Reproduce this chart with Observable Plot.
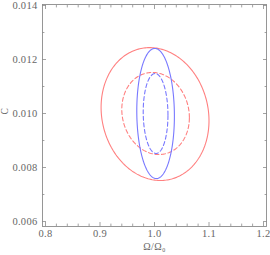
<!DOCTYPE html>
<html>
<head>
<meta charset="utf-8">
<script src="https://cdn.jsdelivr.net/npm/d3@7"></script>
<script src="https://cdn.jsdelivr.net/npm/@observablehq/plot@0.6"></script>
<style>
  html, body { margin: 0; padding: 0; background: #fff; }
</style>
</head>
<body>
<div id="chart"></div>
<script>
// Confidence ellipses: center, sigma along x, sigma along y, correlation
const ellipseNames  = ["red 2σ", "red 1σ", "blue 2σ", "blue 1σ"];
const ellipseColor  = ["red", "red", "blue", "blue"];
const ellipseDashed = [false, true, false, true];
const centerX = [1.001, 1.002, 1.002, 1.002];
const centerY = [0.00998, 0.0100, 0.0100, 0.0100];
const sigmaX  = [0.099, 0.062, 0.0345, 0.0227];
const sigmaY  = [0.00246, 0.00152, 0.00241, 0.00148];
const rho     = [-0.1, -0.1, -0.04, -0.04];

// Axis ticks
const xMajor = [0.8, 0.9, 1.0, 1.1, 1.2];
const xMajorLabels = ["0.8", "0.9", "1.0", "1.1", "1.2"];
const xMinor = [0.82, 0.84, 0.86, 0.88, 0.92, 0.94, 0.96, 0.98, 1.02, 1.04, 1.06, 1.08, 1.12, 1.14, 1.16, 1.18];
const yMajor = [0.006, 0.008, 0.010, 0.012, 0.014];
const yMajorLabels = ["0.006", "0.008", "0.010", "0.012", "0.014"];
const yMinor = [0.007, 0.009, 0.011, 0.013];
const xLabel = "Ω/Ω₀";
const yLabel = "C";

// Build ellipse outlines from the parameters
const N = 240;
const pts = [];
ellipseNames.forEach((name, i) => {
  for (let k = 0; k <= N; k++) {
    const t = 2 * Math.PI * k / N;
    pts.push({
      name,
      x: centerX[i] + sigmaX[i] * Math.cos(t),
      y: centerY[i] + sigmaY[i] * (rho[i] * Math.cos(t) + Math.sqrt(1 - rho[i] * rho[i]) * Math.sin(t))
    });
  }
});

const colors = {red: "#ff8080", blue: "#7878ff"};
const frameColor = "#8c8c8c";
const textColor = "#666";

const lineMarks = ellipseNames.map((name, i) =>
  Plot.line(pts.filter(d => d.name === name), {
    x: "x", y: "y",
    stroke: colors[ellipseColor[i]],
    strokeWidth: 1.1,
    strokeDasharray: ellipseDashed[i] ? "4,2.6" : null,
    curve: "linear"
  })
);

const tickStyle = {stroke: frameColor, strokeWidth: 0.8, tickFormat: () => "", label: null};

const chart = Plot.plot({
  width: 270,
  height: 255,
  marginLeft: 42,
  marginRight: 4,
  marginTop: 4,
  marginBottom: 29,
  style: {fontFamily: "'Liberation Serif', 'DejaVu Serif', serif", fontSize: "10.5px", letterSpacing: "0.3px", color: textColor, background: "#fff"},
  x: {domain: [0.8 - 3 / 545, 1.2 + 3 / 545]},
  y: {domain: [0.006 - 5 / 27000, 0.014 + 1 / 27000]},
  marks: [
    ...lineMarks,
    // major ticks inward on all four sides
    Plot.axisX(xMajor, {anchor: "bottom", tickSize: -4, ...tickStyle}),
    Plot.axisX(xMajor, {anchor: "top", tickSize: -4, ...tickStyle}),
    Plot.axisY(yMajor, {anchor: "left", tickSize: -4, ...tickStyle}),
    Plot.axisY(yMajor, {anchor: "right", tickSize: -4, ...tickStyle}),
    // minor ticks
    Plot.axisX(xMinor, {anchor: "bottom", tickSize: -2.4, ...tickStyle}),
    Plot.axisX(xMinor, {anchor: "top", tickSize: -2.4, ...tickStyle}),
    Plot.axisY(yMinor, {anchor: "left", tickSize: -2.4, ...tickStyle}),
    Plot.axisY(yMinor, {anchor: "right", tickSize: -2.4, ...tickStyle}),
    // tick labels
    Plot.axisX(xMajor, {anchor: "bottom", tickSize: 0, tickPadding: 3, label: null,
      tickFormat: (d, i) => xMajorLabels[i], fill: textColor}),
    Plot.axisY(yMajor, {anchor: "left", tickSize: 0, tickPadding: 5, label: null,
      tickFormat: (d, i) => yMajorLabels[i], fill: textColor}),
    // frame
    Plot.frame({stroke: frameColor, strokeWidth: 0.9}),
    // axis titles
    Plot.text([xLabel], {text: d => d, frameAnchor: "bottom", dy: 23, fill: textColor, fontSize: 10}),
    Plot.text([yLabel], {text: d => d, frameAnchor: "left", dx: -38, dy: -1, rotate: -90, fill: textColor, fontSize: 9.5})
  ]
});

document.getElementById("chart").appendChild(chart);
</script>
</body>
</html>
